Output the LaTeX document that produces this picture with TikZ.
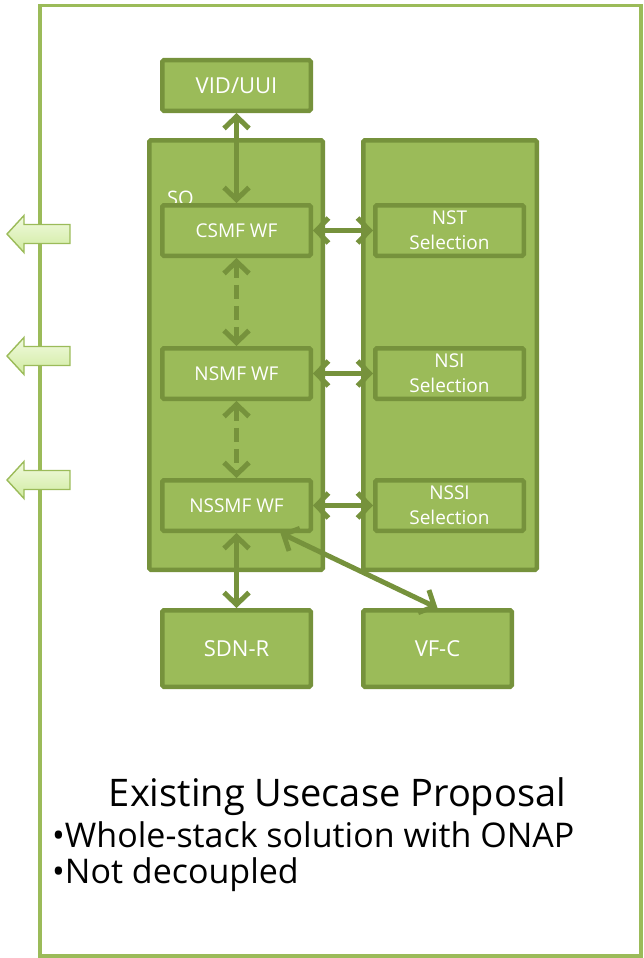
\documentclass[tikz,border=0pt]{standalone}
\usepackage{fontspec}
\setmainfont{Open Sans}
\usetikzlibrary{arrows.meta,calc}
\definecolor{gfill}{HTML}{9BBB59}
\definecolor{gdraw}{HTML}{76923C}
\definecolor{framecol}{HTML}{9BBB59}
\definecolor{lighttop}{HTML}{F1FADF}
\definecolor{lightbot}{HTML}{D0EBA0}
\begin{document}
\begin{tikzpicture}[x=1pt,y=-1pt,
  gbox/.style={draw=gdraw, fill=gfill, line width=4.5pt, rounded corners=1.5pt,
    text=white, align=center, inner sep=0pt, minimum width=148.5pt, minimum height=50.5pt},
  bigtext/.style={font=\fontsize{22}{26}\selectfont},
  smalltext/.style={font=\fontsize{19}{25}\selectfont},
  container/.style={draw=gdraw, fill=gfill, line width=4.5pt, rounded corners=1.5pt,
    minimum width=173.5pt, minimum height=429.5pt, inner sep=0pt},
  link/.style={draw=gdraw, line width=5pt, {Straight Barb[length=12pt,width=25pt]}-{Straight Barb[length=12pt,width=25pt]}},
  dlink/.style={link, dash pattern=on 14pt off 7pt},
  leftarrow/.style={draw=framecol, line width=1.4pt, top color=lighttop, bottom color=lightbot, line join=miter}
]
\useasboundingbox (0,0) rectangle (644,958);
% outer frame
\draw[draw=framecol, line width=3.5pt] (40,5.5) rectangle (641,956);
% left block arrows
\foreach \cy in {234,356,480}{
  \path[leftarrow] (7,\cy) -- (24,\cy-18.5) -- (24,\cy-9.5) -- (70,\cy-9.5) -- (70,\cy+9.5) -- (24,\cy+9.5) -- (24,\cy+18.5) -- cycle;
}
% containers
\node[container] (so) at (236,355) {};
\node[container] (sel) at (450,355) {};
\node[anchor=base west, text=white, font=\fontsize{20}{24}\selectfont, inner sep=0pt] (solabel) at (167,205) {SO};
% boxes
\node[gbox, bigtext] (vid) at (236.5,85.5) {VID/UUI};
\node[gbox, smalltext] (csmf) at (236.5,230.5) {CSMF WF};
\node[gbox, smalltext] (nst) at (449.5,230.5) {NST\\Selection};
\node[gbox, smalltext] (nsmf) at (236.5,373.5) {NSMF WF};
\node[gbox, smalltext] (nsi) at (449.5,373.5) {NSI\\Selection};
\node[gbox, smalltext] (nssmf) at (236.5,505.5) {NSSMF WF};
\node[gbox, smalltext] (nssi) at (449.5,505.5) {NSSI\\Selection};
\node[gbox, bigtext, minimum height=76.5pt] (sdnr) at (236.5,648.5) {SDN-R};
\node[gbox, bigtext, minimum height=76.5pt] (vfc) at (437.5,648.5) {VF-C};
% connectors
\draw[link] (vid.south) -- (csmf.north);
\draw[dlink] (csmf.south) -- (nsmf.north);
\draw[dlink] (nsmf.south) -- (nssmf.north);
\draw[link] (csmf.east) -- (nst.west);
\draw[link] (nsmf.east) -- (nsi.west);
\draw[link] (nssmf.east) -- (nssi.west);
\draw[link] (nssmf.south) -- (sdnr.north);
\coordinate (nssmfout) at ($(nssmf.south)+(44,0)$);
\draw[link] (nssmfout) -- (vfc.north);
% caption
\node[anchor=base, font=\fontsize{38}{44}\selectfont, inner sep=0pt] (title) at (337.5,806) {Existing Usecase Proposal};
\node[anchor=base west, font=\fontsize{34}{40}\selectfont, inner sep=0pt] (b1) at (52,847) {•Whole-stack solution with ONAP};
\node[anchor=base west, font=\fontsize{34}{40}\selectfont, inner sep=0pt] (b2) at (52,883) {•Not decoupled};
\end{tikzpicture}
\end{document}
